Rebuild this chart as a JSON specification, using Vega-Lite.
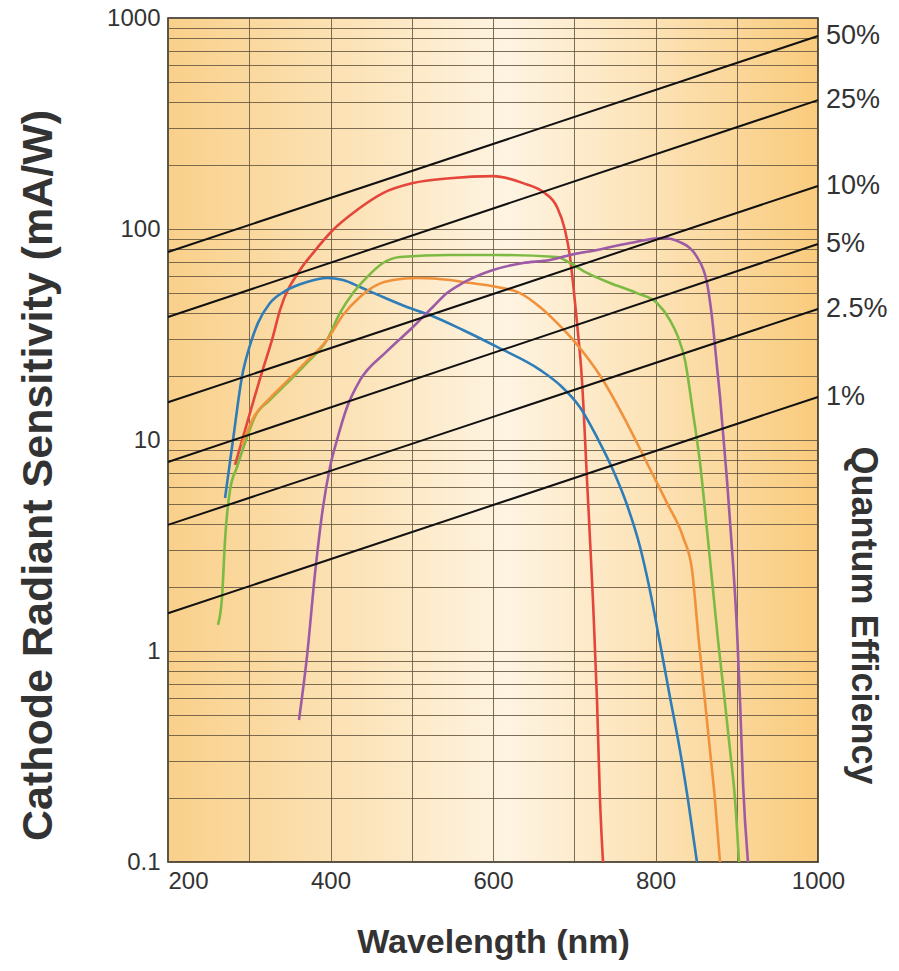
{
  "$schema": "https://vega.github.io/schema/vega-lite/v6.json",
  "width": 650,
  "height": 844,
  "autosize": {"type": "none"},
  "padding": {"left": 168, "top": 18, "right": 81, "bottom": 109},
  "background": "white",
  "view": {
    "fill": {"gradient": "linear", "x1": 0, "y1": 0, "x2": 1, "y2": 0, "stops": [
      {"offset": 0, "color": "#F9D08A"},
      {"offset": 0.3, "color": "#FCE4BA"},
      {"offset": 0.52, "color": "#FEF4E2"},
      {"offset": 0.75, "color": "#FCE2B5"},
      {"offset": 1, "color": "#F9CB7D"}
    ]},
    "stroke": "#222222",
    "strokeWidth": 1.5
  },
  "config": {"font": "Liberation Sans"},
  "datasets": {
    "curves": [
      {"tube": "red", "wl": 282.5, "s": 7.62}, {"tube": "red", "wl": 292.3, "s": 10.3}, {"tube": "red", "wl": 315.7, "s": 21.0}, {"tube": "red", "wl": 328, "s": 29.8}, {"tube": "red", "wl": 337.8, "s": 41.3}, {"tube": "red", "wl": 362.5, "s": 63.9}, {"tube": "red", "wl": 378.5, "s": 76.9}, {"tube": "red", "wl": 403, "s": 98.9}, {"tube": "red", "wl": 432.6, "s": 123}, {"tube": "red", "wl": 464.6, "s": 148}, {"tube": "red", "wl": 501.5, "s": 165}, {"tube": "red", "wl": 547, "s": 174}, {"tube": "red", "wl": 600, "s": 178}, {"tube": "red", "wl": 637, "s": 165}, {"tube": "red", "wl": 661.5, "s": 150}, {"tube": "red", "wl": 678.8, "s": 127}, {"tube": "red", "wl": 688.6, "s": 98.9}, {"tube": "red", "wl": 694.8, "s": 73.7}, {"tube": "red", "wl": 698.5, "s": 55.5}, {"tube": "red", "wl": 703.4, "s": 35.9}, {"tube": "red", "wl": 709.5, "s": 19.2}, {"tube": "red", "wl": 715.7, "s": 6.46}, {"tube": "red", "wl": 723, "s": 1.75}, {"tube": "red", "wl": 728, "s": 0.586}, {"tube": "red", "wl": 731.7, "s": 0.197}, {"tube": "red", "wl": 735.4, "s": 0.1},
      {"tube": "blue", "wl": 270.2, "s": 5.31}, {"tube": "blue", "wl": 280, "s": 10.0}, {"tube": "blue", "wl": 291, "s": 19.9}, {"tube": "blue", "wl": 301, "s": 28.2}, {"tube": "blue", "wl": 310.8, "s": 35.9}, {"tube": "blue", "wl": 325.5, "s": 44.6}, {"tube": "blue", "wl": 346.5, "s": 51.4}, {"tube": "blue", "wl": 371, "s": 56.1}, {"tube": "blue", "wl": 395.7, "s": 58.6}, {"tube": "blue", "wl": 415.4, "s": 57.3}, {"tube": "blue", "wl": 436.3, "s": 53.1}, {"tube": "blue", "wl": 464.6, "s": 47.6}, {"tube": "blue", "wl": 494, "s": 42.7}, {"tube": "blue", "wl": 526, "s": 38.6}, {"tube": "blue", "wl": 563, "s": 33.2}, {"tube": "blue", "wl": 605, "s": 27.6}, {"tube": "blue", "wl": 657.8, "s": 21.5}, {"tube": "blue", "wl": 682.5, "s": 18.2}, {"tube": "blue", "wl": 707, "s": 14.3}, {"tube": "blue", "wl": 728, "s": 10.3}, {"tube": "blue", "wl": 747.7, "s": 7.21}, {"tube": "blue", "wl": 765, "s": 4.92}, {"tube": "blue", "wl": 781, "s": 3.11}, {"tube": "blue", "wl": 793, "s": 1.95}, {"tube": "blue", "wl": 805.5, "s": 1.09}, {"tube": "blue", "wl": 817.8, "s": 0.605}, {"tube": "blue", "wl": 830, "s": 0.34}, {"tube": "blue", "wl": 840, "s": 0.197}, {"tube": "blue", "wl": 851, "s": 0.1},
      {"tube": "green", "wl": 261.5, "s": 1.33}, {"tube": "green", "wl": 266.5, "s": 1.8}, {"tube": "green", "wl": 270.2, "s": 3.36}, {"tube": "green", "wl": 276.3, "s": 5.79}, {"tube": "green", "wl": 285, "s": 7.45}, {"tube": "green", "wl": 297.2, "s": 10.3}, {"tube": "green", "wl": 307, "s": 12.9}, {"tube": "green", "wl": 325.5, "s": 15.5}, {"tube": "green", "wl": 346.5, "s": 18.6}, {"tube": "green", "wl": 371, "s": 23.2}, {"tube": "green", "wl": 395.7, "s": 29.8}, {"tube": "green", "wl": 411.7, "s": 40.0}, {"tube": "green", "wl": 427.7, "s": 49.7}, {"tube": "green", "wl": 445, "s": 59.2}, {"tube": "green", "wl": 464.6, "s": 69.0}, {"tube": "green", "wl": 485.5, "s": 73.7}, {"tube": "green", "wl": 547, "s": 75.3}, {"tube": "green", "wl": 605, "s": 75.3}, {"tube": "green", "wl": 678.8, "s": 73.7}, {"tube": "green", "wl": 694.8, "s": 69.0}, {"tube": "green", "wl": 715.7, "s": 61.9}, {"tube": "green", "wl": 744, "s": 55.5}, {"tube": "green", "wl": 777, "s": 49.7}, {"tube": "green", "wl": 801.8, "s": 44.6}, {"tube": "green", "wl": 817.8, "s": 37.0}, {"tube": "green", "wl": 827.7, "s": 30.8}, {"tube": "green", "wl": 836.3, "s": 23.9}, {"tube": "green", "wl": 846.2, "s": 13.4}, {"tube": "green", "wl": 854.8, "s": 7.78}, {"tube": "green", "wl": 863.4, "s": 3.74}, {"tube": "green", "wl": 870.8, "s": 1.95}, {"tube": "green", "wl": 876.9, "s": 1.13}, {"tube": "green", "wl": 883.1, "s": 0.69}, {"tube": "green", "wl": 891.7, "s": 0.34}, {"tube": "green", "wl": 897.9, "s": 0.197}, {"tube": "green", "wl": 902.8, "s": 0.1},
      {"tube": "orange", "wl": 291, "s": 9.47}, {"tube": "orange", "wl": 307, "s": 13.1}, {"tube": "orange", "wl": 325.5, "s": 15.8}, {"tube": "orange", "wl": 346.5, "s": 19.0}, {"tube": "orange", "wl": 371, "s": 23.7}, {"tube": "orange", "wl": 395.7, "s": 29.8}, {"tube": "orange", "wl": 415.4, "s": 39.1}, {"tube": "orange", "wl": 436.3, "s": 47.6}, {"tube": "orange", "wl": 457.2, "s": 54.3}, {"tube": "orange", "wl": 477, "s": 57.3}, {"tube": "orange", "wl": 506.5, "s": 58.6}, {"tube": "orange", "wl": 547, "s": 57.3}, {"tube": "orange", "wl": 563, "s": 56.1}, {"tube": "orange", "wl": 605, "s": 53.1}, {"tube": "orange", "wl": 633.2, "s": 49.7}, {"tube": "orange", "wl": 657.8, "s": 42.7}, {"tube": "orange", "wl": 678.8, "s": 35.9}, {"tube": "orange", "wl": 698.5, "s": 29.8}, {"tube": "orange", "wl": 735.4, "s": 19.2}, {"tube": "orange", "wl": 765, "s": 12.0}, {"tube": "orange", "wl": 789.5, "s": 7.78}, {"tube": "orange", "wl": 814.2, "s": 5.02}, {"tube": "orange", "wl": 833.9, "s": 3.47}, {"tube": "orange", "wl": 845, "s": 2.42}, {"tube": "orange", "wl": 848.7, "s": 1.75}, {"tube": "orange", "wl": 852.5, "s": 1.2}, {"tube": "orange", "wl": 858.6, "s": 0.705}, {"tube": "orange", "wl": 867, "s": 0.34}, {"tube": "orange", "wl": 873.2, "s": 0.197}, {"tube": "orange", "wl": 879.4, "s": 0.1},
      {"tube": "purple", "wl": 361.2, "s": 0.471}, {"tube": "purple", "wl": 371, "s": 0.937}, {"tube": "purple", "wl": 381, "s": 2.34}, {"tube": "purple", "wl": 390.8, "s": 4.81}, {"tube": "purple", "wl": 399.4, "s": 7.45}, {"tube": "purple", "wl": 408, "s": 10.0}, {"tube": "purple", "wl": 420.3, "s": 14.3}, {"tube": "purple", "wl": 436.3, "s": 19.2}, {"tube": "purple", "wl": 468.3, "s": 26.1}, {"tube": "purple", "wl": 501.5, "s": 34.3}, {"tube": "purple", "wl": 526, "s": 42.7}, {"tube": "purple", "wl": 543.4, "s": 49.7}, {"tube": "purple", "wl": 563, "s": 55.5}, {"tube": "purple", "wl": 600, "s": 63.9}, {"tube": "purple", "wl": 637, "s": 69.0}, {"tube": "purple", "wl": 670, "s": 71.3}, {"tube": "purple", "wl": 694.8, "s": 75.3}, {"tube": "purple", "wl": 728, "s": 79.5}, {"tube": "purple", "wl": 768.6, "s": 85.9}, {"tube": "purple", "wl": 809.2, "s": 90.6}, {"tube": "purple", "wl": 830, "s": 86.7}, {"tube": "purple", "wl": 851, "s": 73.7}, {"tube": "purple", "wl": 863.4, "s": 55.5}, {"tube": "purple", "wl": 869.5, "s": 38.3}, {"tube": "purple", "wl": 875.7, "s": 22.2}, {"tube": "purple", "wl": 879.4, "s": 16.0}, {"tube": "purple", "wl": 888, "s": 6.46}, {"tube": "purple", "wl": 895.4, "s": 2.61}, {"tube": "purple", "wl": 900.3, "s": 1.26}, {"tube": "purple", "wl": 904, "s": 0.586}, {"tube": "purple", "wl": 907.7, "s": 0.237}, {"tube": "purple", "wl": 913.8, "s": 0.1}
    ],
    "qe": [
      {"qe": "50%", "wl": 200, "s": 77.8}, {"qe": "50%", "wl": 1000, "s": 822},
      {"qe": "25%", "wl": 200, "s": 38.3}, {"qe": "25%", "wl": 1000, "s": 408},
      {"qe": "10%", "wl": 200, "s": 15.1}, {"qe": "10%", "wl": 1000, "s": 160},
      {"qe": "5%", "wl": 200, "s": 7.87}, {"qe": "5%", "wl": 1000, "s": 84.9},
      {"qe": "2.5%", "wl": 200, "s": 3.96}, {"qe": "2.5%", "wl": 1000, "s": 41.8},
      {"qe": "1%", "wl": 200, "s": 1.51}, {"qe": "1%", "wl": 1000, "s": 16.0}
    ]
  },
  "layer": [
    {
      "data": {"name": "curves"},
      "mark": {"type": "line", "interpolate": "monotone", "strokeWidth": 2.6, "clip": true},
      "encoding": {
        "x": {
          "field": "wl", "type": "quantitative",
          "scale": {"domain": [200, 1000], "nice": false, "zero": false},
          "axis": {
            "values": [200, 300, 400, 500, 600, 700, 800, 900, 1000],
            "format": "d",
            "labelExpr": "datum.value % 200 == 0 ? datum.label : ''",
            "labelAlign": {"condition": {"test": "datum.value == 200", "value": "left"}, "value": "center"},
            "labelOverlap": false,
            "labelFontSize": 24, "labelColor": "#333333", "labelPadding": 7,
            "ticks": false, "domain": false,
            "grid": true, "gridColor": "#65563f", "gridWidth": 1, "gridOpacity": 0.85,
            "title": "Wavelength (nm)", "titleFontSize": 34, "titleFontWeight": "bold", "titleColor": "#333333",
            "titleX": 325, "titleY": 90, "titleBaseline": "alphabetic", "titleAlign": "center"
          }
        },
        "y": {
          "field": "s", "type": "quantitative",
          "scale": {"type": "log", "domain": [0.1, 1000], "nice": false},
          "axis": {
            "values": [0.1, 0.2, 0.3, 0.4, 0.5, 0.6, 0.7, 0.8, 0.9, 1, 2, 3, 4, 5, 6, 7, 8, 9, 10, 20, 30, 40, 50, 60, 70, 80, 90, 100, 200, 300, 400, 500, 600, 700, 800, 900, 1000],
            "format": "~g",
            "labelExpr": "abs(log(datum.value)/LN10 - round(log(datum.value)/LN10)) < 0.001 ? datum.label : ''",
            "labelOverlap": false,
            "labelFontSize": 24, "labelColor": "#333333", "labelPadding": 8,
            "ticks": false, "domain": false,
            "grid": true, "gridColor": "#65563f", "gridWidth": 1, "gridOpacity": 0.85,
            "title": "Cathode Radiant Sensitivity (mA/W)", "titleFontSize": 43, "titleFontWeight": "bold", "titleColor": "#333333",
            "titleAngle": -90, "titleX": -117, "titleY": 457, "titleBaseline": "alphabetic", "titleAlign": "center"
          }
        },
        "color": {
          "field": "tube", "type": "nominal",
          "scale": {"domain": ["red", "blue", "green", "orange", "purple"], "range": ["#E5463B", "#2E7DB8", "#7DBA43", "#F0913C", "#9D5BA6"]},
          "legend": null
        }
      }
    },
    {
      "data": {"name": "qe"},
      "mark": {"type": "line", "color": "#111111", "strokeWidth": 2},
      "encoding": {
        "x": {"field": "wl", "type": "quantitative"},
        "y": {
          "field": "s", "type": "quantitative",
          "axis": {
            "orient": "right", "labels": false, "ticks": false, "grid": false, "domain": false,
            "title": "Quantum Efficiency", "titleFontSize": 36, "titleFontWeight": "bold", "titleColor": "#333333",
            "titleAngle": 90, "titleX": 33, "titleY": 597, "titleBaseline": "alphabetic", "titleAlign": "center"
          }
        },
        "detail": {"field": "qe", "type": "nominal"}
      }
    },
    {
      "data": {"name": "qe"},
      "transform": [{"filter": "datum.wl == 1000"}],
      "mark": {"type": "text", "align": "left", "baseline": "middle", "dx": 8, "fontSize": 27, "color": "#333333"},
      "encoding": {
        "x": {"field": "wl", "type": "quantitative"},
        "y": {"field": "s", "type": "quantitative", "axis": null},
        "text": {"field": "qe", "type": "nominal"}
      }
    }
  ],
  "resolve": {"scale": {"y": "shared"}, "axis": {"y": "independent"}}
}
